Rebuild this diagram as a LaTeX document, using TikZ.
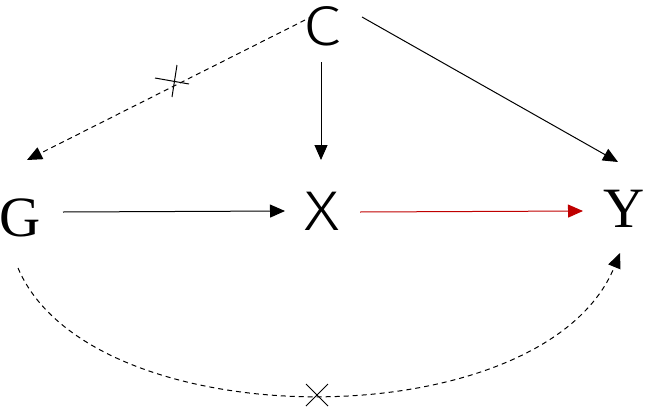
\documentclass[tikz,border=0pt]{standalone}
\usepackage{fontspec}
\usepackage{graphicx}
\setmainfont{Liberation Serif}
\newfontfamily\lightsans{Fira Sans Light}
\usetikzlibrary{arrows.meta,calc}
\definecolor{darkred}{RGB}{192,0,0}
\newcommand{\widen}[1]{\scalebox{1.22}[1]{#1}}
\tikzset{
  serifvar/.style={font=\fontsize{57}{57}\selectfont, inner sep=0pt, anchor=base},
  sansvar/.style={font=\lightsans\fontsize{56}{56}\selectfont, inner sep=0pt, anchor=base},
  arr/.style={line width=1pt, -{Triangle[length=15pt,width=13pt]}},
  dsh/.style={dash pattern=on 5pt off 4pt},
  crossmark/.style={line width=1pt}
}
\begin{document}
\begin{tikzpicture}[x=1pt,y=-1pt]
\useasboundingbox (0,0) rectangle (645,407);
\node[sansvar] (C) at (322,45) {\widen{C}};
\node[sansvar] (X) at (322,230) {\widen{X}};
\node[serifvar] (G) at (20,236) {G};
\node[serifvar] (Y) at (624,227) {Y};
% C -> X
\draw[arr] ($(C.base)+(-1,17)$) -- ($(X.base)+(-1,-70)$);
% C -> Y
\draw[arr] ($(C.base)+(40,-28)$) -- ($(Y.base)+(-6,-65)$);
% C -> G dashed
\draw[arr,dsh] ($(C.base)+(-9,-29)$) -- ($(G.base)+(7,-76)$);
% G -> X
\draw[arr] ($(G.base)+(43,-24)$) -- ($(X.base)+(-37,-19)$);
% X -> Y red
\draw[arr,darkred] ($(X.base)+(38,-18)$) -- ($(Y.base)+(-41,-16)$);
% G -> Y dashed curve
\draw[arr,dsh] ($(G.base)+(-2,32)$) .. controls ($(G.base)+(71,204)$) and ($(Y.base)+(-80,213)$) .. ($(Y.base)+(-4,26)$);
% crosses
\coordinate (k1) at (174,81);
\draw[crossmark] ($(k1)+(3,-16)$) -- ($(k1)+(-2,16)$);
\draw[crossmark] ($(k1)+(-19,-3)$) -- ($(k1)+(15,3)$);
\coordinate (k2) at (317,395);
\draw[crossmark] ($(k2)+(-11,-11)$) -- ($(k2)+(11,11)$);
\draw[crossmark] ($(k2)+(11,-11)$) -- ($(k2)+(-11,11)$);
\end{tikzpicture}
\end{document}
